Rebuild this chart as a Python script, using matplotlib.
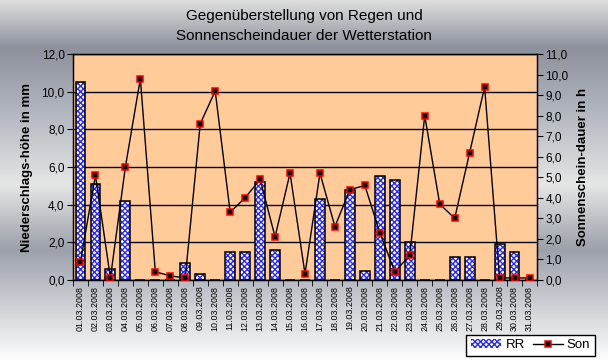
import numpy as np
import matplotlib
matplotlib.use("Agg")
import matplotlib.pyplot as plt
from matplotlib.colors import LinearSegmentedColormap
from matplotlib.patches import Patch
from matplotlib.lines import Line2D

plt.rcParams['font.family'] = ['Liberation Sans', 'DejaVu Sans']

# Tage im März 2008
dates = [f"{d:02d}.03.2008" for d in range(1, 32)]

# Niederschlag RR in mm
rr = [10.5, 5.1, 0.6, 4.2, 0.0, 0.0, 0.0, 0.9, 0.3, 0.0,
      1.5, 1.5, 5.2, 1.6, 0.0, 0.0, 4.3, 0.0, 4.8, 0.5,
      5.5, 5.3, 2.0, 0.0, 0.0, 1.2, 1.2, 0.0, 1.9, 1.5, 0.0]

# Sonnenscheindauer in h
son = [0.9, 5.1, 0.1, 5.5, 9.8, 0.4, 0.2, 0.1, 7.6, 9.2,
       3.3, 4.0, 4.9, 2.1, 5.2, 0.3, 5.2, 2.6, 4.4, 4.6,
       2.3, 0.4, 1.2, 8.0, 3.7, 3.0, 6.2, 9.4, 0.1, 0.1, 0.1]

x = np.arange(len(dates))

fig = plt.figure(figsize=(6.08, 3.62), dpi=100)

# Hintergrund mit Metallic-Verlauf
bg = fig.add_axes([0, 0, 1, 1], zorder=-10)
stops = [(0.0, "#ffffff"), (0.31, "#9ba0aa"), (0.49, "#e6e6e6"),
         (0.70, "#b0b4bd"), (0.87, "#8c919c"), (1.0, "#dedede")]
cmap = LinearSegmentedColormap.from_list("metal", stops)
grad = np.linspace(0, 1, 256).reshape(-1, 1)
bg.imshow(grad, aspect='auto', cmap=cmap, extent=[0, 1, 0, 1], origin='lower')
bg.set_axis_off()

ax = fig.add_axes([73/608, 1-280/362, (537-73)/608, (280-54)/362])
ax.set_facecolor("#ffcc99")

ax.bar(x, rr, width=0.66, color='white', edgecolor='#2a2aff', hatch='xxxxxx',
       linewidth=0, zorder=2)
ax.bar(x, rr, width=0.66, color='none', edgecolor='black', linewidth=1.1, zorder=3)

ax.set_xlim(-0.5, len(dates) - 0.5)
ax.set_ylim(0, 12)
ax.set_yticks(np.arange(0, 13, 2))
ax.set_yticklabels([f"{v:.1f}".replace(".", ",") for v in np.arange(0, 13, 2)], fontsize=8.5)
ax.yaxis.grid(True, color='black', linewidth=1.0)
ax.set_axisbelow(True)
ax.set_xticks(x)
ax.set_xticklabels(dates, rotation=90, fontsize=6.4)
ax.tick_params(axis='x', length=0, pad=4)
ax.set_xticks(np.arange(-0.5, len(dates)), minor=True)
ax.tick_params(axis='x', which='minor', length=4, direction='out')
ax.tick_params(axis='y', length=4, direction='out', pad=2)
ax.set_ylabel("Niederschlags-höhe in mm", fontsize=9.5, fontweight='bold', labelpad=6)
for s in ax.spines.values():
    s.set_linewidth(1.0)

ax2 = ax.twinx()
ax2.plot(x, son, color='black', linewidth=1.0, marker='s', markersize=4.5,
         markerfacecolor='black', markeredgecolor='red', markeredgewidth=1.1,
         zorder=4)
ax2.set_ylim(0, 11)
ax2.set_yticks(np.arange(0, 12, 1))
ax2.set_yticklabels([f"{v:.1f}".replace(".", ",") for v in np.arange(0, 12, 1)], fontsize=8.5)
ax2.tick_params(axis='y', length=4, direction='out', pad=2)
ax2.set_ylabel("Sonnenschein-dauer in h", fontsize=9.5, fontweight='bold', labelpad=6)

fig.text(0.5, 1-16/362, "Gegenüberstellung von Regen und", ha='center', va='center', fontsize=11)
fig.text(0.5, 1-36/362, "Sonnenscheindauer der Wetterstation", ha='center', va='center', fontsize=11)

h_rr = Patch(facecolor='white', edgecolor='#2a2aff', hatch='xxxxxx', linewidth=0)
h_son = Line2D([], [], color='black', linewidth=1.0, marker='s', markersize=4.5,
               markerfacecolor='black', markeredgecolor='red', markeredgewidth=1.1)
leg = fig.legend([h_rr, h_son], ["RR", "Son"], loc='lower right',
                 bbox_to_anchor=(595/608, 1-356/362), ncol=2, fontsize=9.5,
                 frameon=True, fancybox=False, borderpad=0.35, handlelength=2.3,
                 handletextpad=0.3, columnspacing=0.6, borderaxespad=0)
leg.get_frame().set_edgecolor('black')
leg.get_frame().set_linewidth(1.0)
leg.get_frame().set_facecolor('white')
leg.get_frame().set_alpha(1)

fig.savefig("out.png", dpi=100)
